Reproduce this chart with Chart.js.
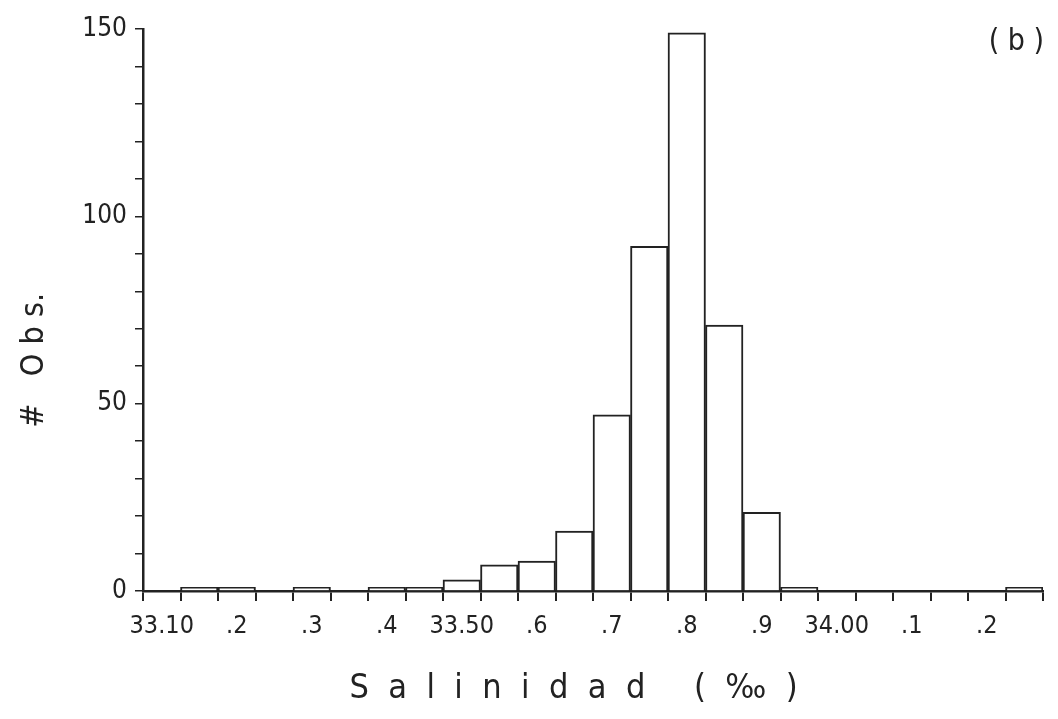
<!DOCTYPE html>
<html lang="es">
  <head>
    <meta charset="UTF-8" />
    <title>Salinidad (b)</title>
    <script src="https://cdn.jsdelivr.net/npm/chart.js"></script>
    <style>
      html, body { margin: 0; padding: 0; background: #fff; }
      #wrap { width: 1058px; height: 719px; }
    </style>
  </head>
  <body>
    <div id="wrap"><canvas id="salChart"></canvas></div>
    <script>
      // bins of 0.05 starting at 33.10
      const bins = [
        "33.10", "33.15", "33.20", "33.25", "33.30", "33.35", "33.40", "33.45",
        "33.50", "33.55", "33.60", "33.65", "33.70", "33.75", "33.80", "33.85",
        "33.90", "33.95", "34.00", "34.05", "34.10", "34.15", "34.20", "34.25",
      ];
      // number of observations per bin
      const counts = [
        0, 1, 1, 0, 1, 0, 1, 1,
        3, 7, 8, 16, 47, 92, 149, 71,
        21, 1, 0, 0, 0, 0, 0, 1,
      ];
      // labels printed under the axis (one every 0.1)
      const xTickLabels = [
        "33.10", "", ".2", "", ".3", "", ".4", "",
        "33.50", "", ".6", "", ".7", "", ".8", "",
        ".9", "", "34.00", "", ".1", "", ".2", "",
      ];
      const yTickLabels = [0, 50, 100, 150];

      const ink = "#222";
      const fam = '"Liberation Sans Narrow", "DejaVu Sans Condensed", "Roboto Condensed", "Liberation Sans", sans-serif';

      // panel tag in the top right corner
      const panelTag = {
        id: "panelTag",
        afterDraw(chart) {
          const c = chart.ctx;
          c.save();
          c.fillStyle = ink;
          c.font = "30px " + fam;
          c.textAlign = "right";
          c.textBaseline = "middle";
          c.fillText("( b )", 1044, 42);
          c.restore();
        },
      };

      new Chart(document.getElementById("salChart"), {
        type: "bar",
        data: {
          labels: bins,
          datasets: [
            {
              data: counts,
              backgroundColor: "#fff",
              borderColor: ink,
              borderWidth: 2,
              barPercentage: 1,
              categoryPercentage: 1,
            },
          ],
        },
        options: {
          responsive: true,
          maintainAspectRatio: false,
          animation: false,
          layout: { padding: { top: 29, right: 15, left: 0, bottom: 0 } },
          plugins: {
            legend: { display: false },
            tooltip: { enabled: false },
          },
          scales: {
            x: {
              offset: true,
              grid: {
                offset: true,
                drawOnChartArea: false,
                drawTicks: true,
                tickLength: 10,
                color: ink,
                lineWidth: 2,
              },
              border: { display: true, color: ink, width: 2.5 },
              ticks: {
                autoSkip: false,
                maxRotation: 0,
                padding: 10,
                color: ink,
                font: { family: fam, size: 25 },
                callback: (v, i) => xTickLabels[i],
              },
              title: {
                display: true,
                text: "S  a  l  i  n  i  d  a  d     (  ‰  )    ",
                color: ink,
                font: { family: fam, size: 34 },
                padding: { bottom: 9 },
              },
              afterFit(scale) {
                scale.height = 128;
              },
            },
            y: {
              min: 0,
              max: 150,
              grid: {
                drawOnChartArea: false,
                drawTicks: true,
                tickLength: 8,
                color: ink,
                lineWidth: 1.5,
              },
              border: { display: true, color: ink, width: 2.5 },
              ticks: {
                stepSize: 10,
                padding: 8,
                color: ink,
                font: { family: fam, size: 26 },
                callback: (v) => (yTickLabels.includes(v) ? String(v) : ""),
              },
              title: {
                display: true,
                text: "#   O b s.           ",
                color: ink,
                font: { family: fam, size: 32 },
                padding: { top: 15 },
              },
              afterFit(scale) {
                scale.width = 143;
              },
            },
          },
        },
        plugins: [panelTag],
      });
    </script>
  </body>
</html>
